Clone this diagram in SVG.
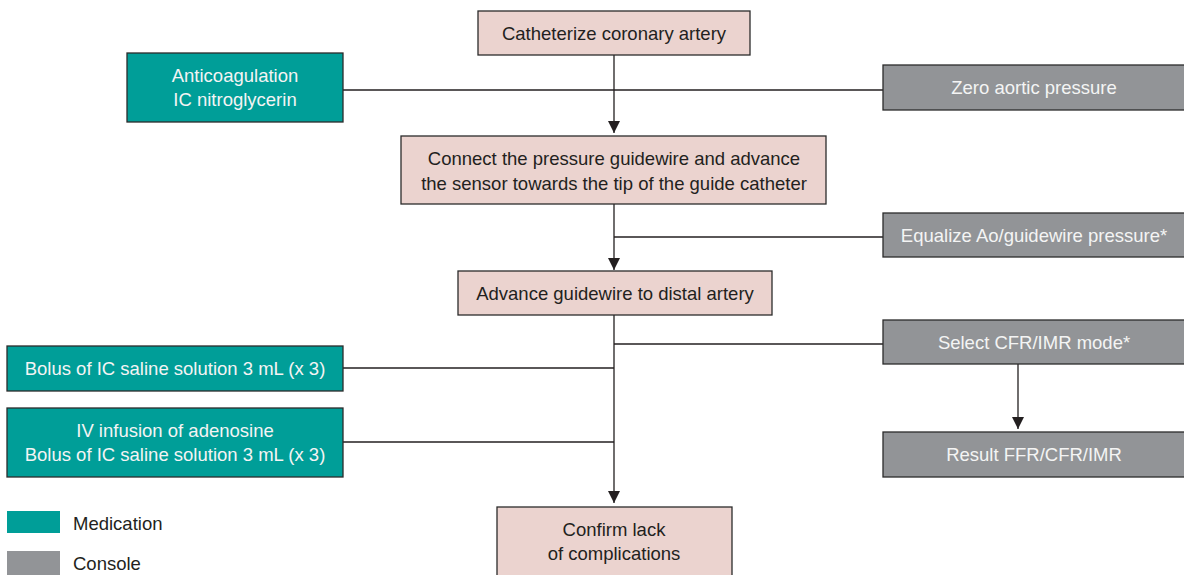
<svg xmlns="http://www.w3.org/2000/svg" width="1184" height="575" viewBox="0 0 1184 575">
<style>
.box{stroke:#2b2b2b;stroke-width:1.3}
.pink{fill:#ebd3cf}
.teal{fill:#009e98}
.gray{fill:#929497}
text{font-family:"Liberation Sans",Arial,sans-serif;font-size:18.5px;text-anchor:middle}
.dk{fill:#231f20}
.lt{fill:#f4f4f4}
.ln{stroke:#231f20;stroke-width:1.3;fill:none}
</style>
<defs>
<marker id="ah" viewBox="0 0 10 10" refX="10" refY="5" markerWidth="12" markerHeight="12" markerUnits="userSpaceOnUse" orient="auto">
<path d="M0,0 L10,5 L0,10 Z" fill="#231f20"/>
</marker>
</defs>
<g id="connectors">
<line class="ln" x1="614" y1="55" x2="614" y2="133" marker-end="url(#ah)"/>
<line class="ln" x1="343" y1="90" x2="883" y2="90"/>
<line class="ln" x1="614" y1="204" x2="614" y2="270" marker-end="url(#ah)"/>
<line class="ln" x1="614" y1="237" x2="883" y2="237"/>
<line class="ln" x1="614" y1="315" x2="614" y2="503" marker-end="url(#ah)"/>
<line class="ln" x1="614" y1="344" x2="883" y2="344"/>
<line class="ln" x1="343" y1="368" x2="614" y2="368"/>
<line class="ln" x1="343" y1="442" x2="614" y2="442"/>
<line class="ln" x1="1018" y1="364" x2="1018" y2="429" marker-end="url(#ah)"/>
</g>
<g id="catheterize">
<rect class="box pink" x="478" y="11" width="272" height="44"/>
<text class="dk" x="614" y="40">Catheterize coronary artery</text>
</g>
<g id="anticoagulation">
<rect class="box teal" x="127" y="53" width="216" height="69"/>
<text class="lt" x="235" y="82">Anticoagulation</text>
<text class="lt" x="235" y="106">IC nitroglycerin</text>
</g>
<g id="zero">
<rect class="box gray" x="883" y="65" width="306" height="45"/>
<text class="lt" x="1034" y="94">Zero aortic pressure</text>
</g>
<g id="connect">
<rect class="box pink" x="401" y="136" width="425" height="68"/>
<text class="dk" x="614" y="165">Connect the pressure guidewire and advance</text>
<text class="dk" x="614" y="190">the sensor towards the tip of the guide catheter</text>
</g>
<g id="equalize">
<rect class="box gray" x="883" y="213" width="306" height="44"/>
<text class="lt" x="1034" y="242">Equalize Ao/guidewire pressure*</text>
</g>
<g id="advance">
<rect class="box pink" x="458" y="271" width="314" height="44"/>
<text class="dk" x="615" y="300">Advance guidewire to distal artery</text>
</g>
<g id="select">
<rect class="box gray" x="883" y="320" width="306" height="44"/>
<text class="lt" x="1034" y="349">Select CFR/IMR mode*</text>
</g>
<g id="result">
<rect class="box gray" x="883" y="432" width="306" height="45"/>
<text class="lt" x="1034" y="461">Result FFR/CFR/IMR</text>
</g>
<g id="bolus">
<rect class="box teal" x="7" y="346" width="336" height="45"/>
<text class="lt" x="175" y="375">Bolus of IC saline solution 3 mL (x 3)</text>
</g>
<g id="iv">
<rect class="box teal" x="7" y="408" width="336" height="69"/>
<text class="lt" x="175" y="437">IV infusion of adenosine</text>
<text class="lt" x="175" y="461">Bolus of IC saline solution 3 mL (x 3)</text>
</g>
<g id="confirm">
<rect class="box pink" x="497" y="507" width="235" height="75"/>
<text class="dk" x="614" y="536">Confirm lack</text>
<text class="dk" x="614" y="560">of complications</text>
</g>
<g id="legend">
<rect class="teal" x="7" y="511" width="53" height="22"/>
<text class="dk" x="73" y="530" style="text-anchor:start">Medication</text>
<rect class="gray" x="7" y="551" width="53" height="30"/>
<text class="dk" x="73" y="570" style="text-anchor:start">Console</text>
</g>
</svg>
